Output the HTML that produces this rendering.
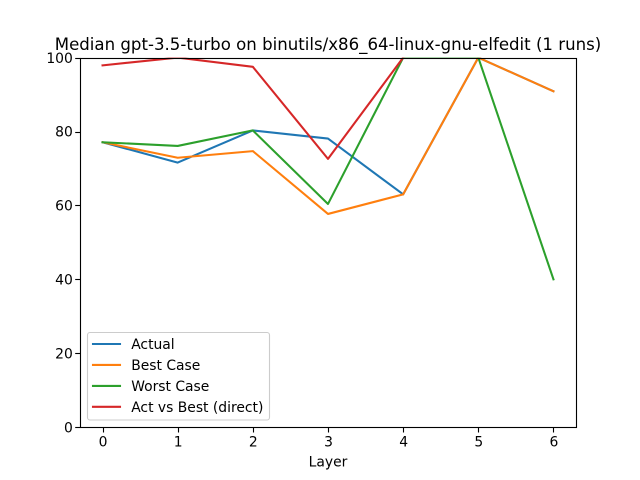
<!DOCTYPE html>
<html>
<head>
<meta charset="utf-8">
<style>
html,body{margin:0;padding:0;background:#fff;}
svg{display:block;}
text{font-family:"DejaVu Sans","Liberation Sans",sans-serif;fill:#000;}
</style>
</head>
<body>
<svg id="chart" width="640" height="480" viewBox="0 0 640 480" xmlns="http://www.w3.org/2000/svg">
<defs><clipPath id="plot-clip"><rect x="80" y="57.6" width="496" height="369.6"></rect></clipPath></defs>
<rect width="640" height="480" fill="#fff"></rect>
<rect x="80" y="57.6" width="496" height="369.6" fill="#fff"></rect>
<g id="series-layer" clip-path="url(#plot-clip)"></g>
<g id="axis-layer"></g>
<text x="328" y="50" font-size="16.6" text-anchor="middle">Median gpt-3.5-turbo on binutils/x86_64-linux-gnu-elfedit (1 runs)</text>
<text x="328" y="466.5" font-size="13.89" text-anchor="middle">Layer</text>
<g id="legend-layer"></g>
</svg>
<script>
const layers = [0, 1, 2, 3, 4, 5, 6];
const xTicks = [0, 1, 2, 3, 4, 5, 6];
const yTicks = [0, 20, 40, 60, 80, 100];
const actual = [77.1, 71.6, 80.3, 78.1, 63, 100, 90.9];
const bestCase = [77.1, 72.9, 74.7, 57.7, 63, 100, 90.9];
const worstCase = [77.1, 76.1, 80.3, 60.4, 100, 100, 40];
const actVsBest = [97.9, 100, 97.5, 72.6, 100];
const seriesNames = ['Actual', 'Best Case', 'Worst Case', 'Act vs Best (direct)'];
const seriesColors = ['#1f77b4', '#ff7f0e', '#2ca02c', '#d62728'];
const seriesValues = [actual, bestCase, worstCase, actVsBest];

const NS = 'http://www.w3.org/2000/svg';
const xScale = v => 102.55 + v * 75.15;
const yScale = v => 427.2 - v * 3.696;
const snap = v => Math.floor(v + 0.5) + 0.5;

function make(tag, attrs, parent) {
  const el = document.createElementNS(NS, tag);
  for (const k in attrs) el.setAttribute(k, attrs[k]);
  parent.appendChild(el);
  return el;
}

const seriesLayer = document.getElementById('series-layer');
const axisLayer = document.getElementById('axis-layer');
const legendLayer = document.getElementById('legend-layer');

seriesValues.forEach((vals, s) => {
  const pts = vals.map((v, i) => xScale(layers[i]).toFixed(2) + ',' + yScale(v).toFixed(2)).join(' ');
  const line = make('polyline', {points: pts, fill: 'none', stroke: seriesColors[s], 'stroke-width': 2.08, 'stroke-linejoin': 'round', 'stroke-linecap': 'square'}, seriesLayer);
  
  
});

xTicks.forEach(t => {
  const x = snap(xScale(t));
  const tick = make('line', {x1: x, x2: x, y1: 427.5, y2: 432.5, stroke: '#000', 'stroke-width': 1.11}, axisLayer);
  
  
  const label = make('text', {x: xScale(t) + 0.5, y: 446.5, 'font-size': 13.89, 'text-anchor': 'middle'}, axisLayer);
  label.textContent = t;
  
  
});

yTicks.forEach(t => {
  const y = snap(yScale(t));
  const tick = make('line', {x1: 75.2, x2: 80.5, y1: y, y2: y, stroke: '#000', 'stroke-width': 1.11}, axisLayer);
  
  
  const label = make('text', {x: 72.8, y: yScale(t) + 5.2, 'font-size': 13.89, 'text-anchor': 'end'}, axisLayer);
  label.textContent = t;
  
  
});

const frame = make('rect', {x: 80.5, y: 58.5, width: 496, height: 369, fill: 'none', stroke: '#000', 'stroke-width': 1.11}, axisLayer);



const legendBox = make('rect', {x: 87.5, y: 332.5, width: 182, height: 87.5, rx: 2.5, fill: '#fff', 'fill-opacity': 0.8, stroke: '#ccc', 'stroke-width': 1.11}, legendLayer);



seriesNames.forEach((name, i) => {
  const rowY = 344 + i * 20.95;
  const swatch = make('line', {x1: 93, x2: 120, y1: rowY, y2: rowY, stroke: seriesColors[i], 'stroke-width': 2.08, 'stroke-linecap': 'square'}, legendLayer);
  
  
  const label = make('text', {x: 131.2, y: rowY + 5, 'font-size': 13.89}, legendLayer);
  label.textContent = name;
  
  
});
</script>
</body>
</html>
